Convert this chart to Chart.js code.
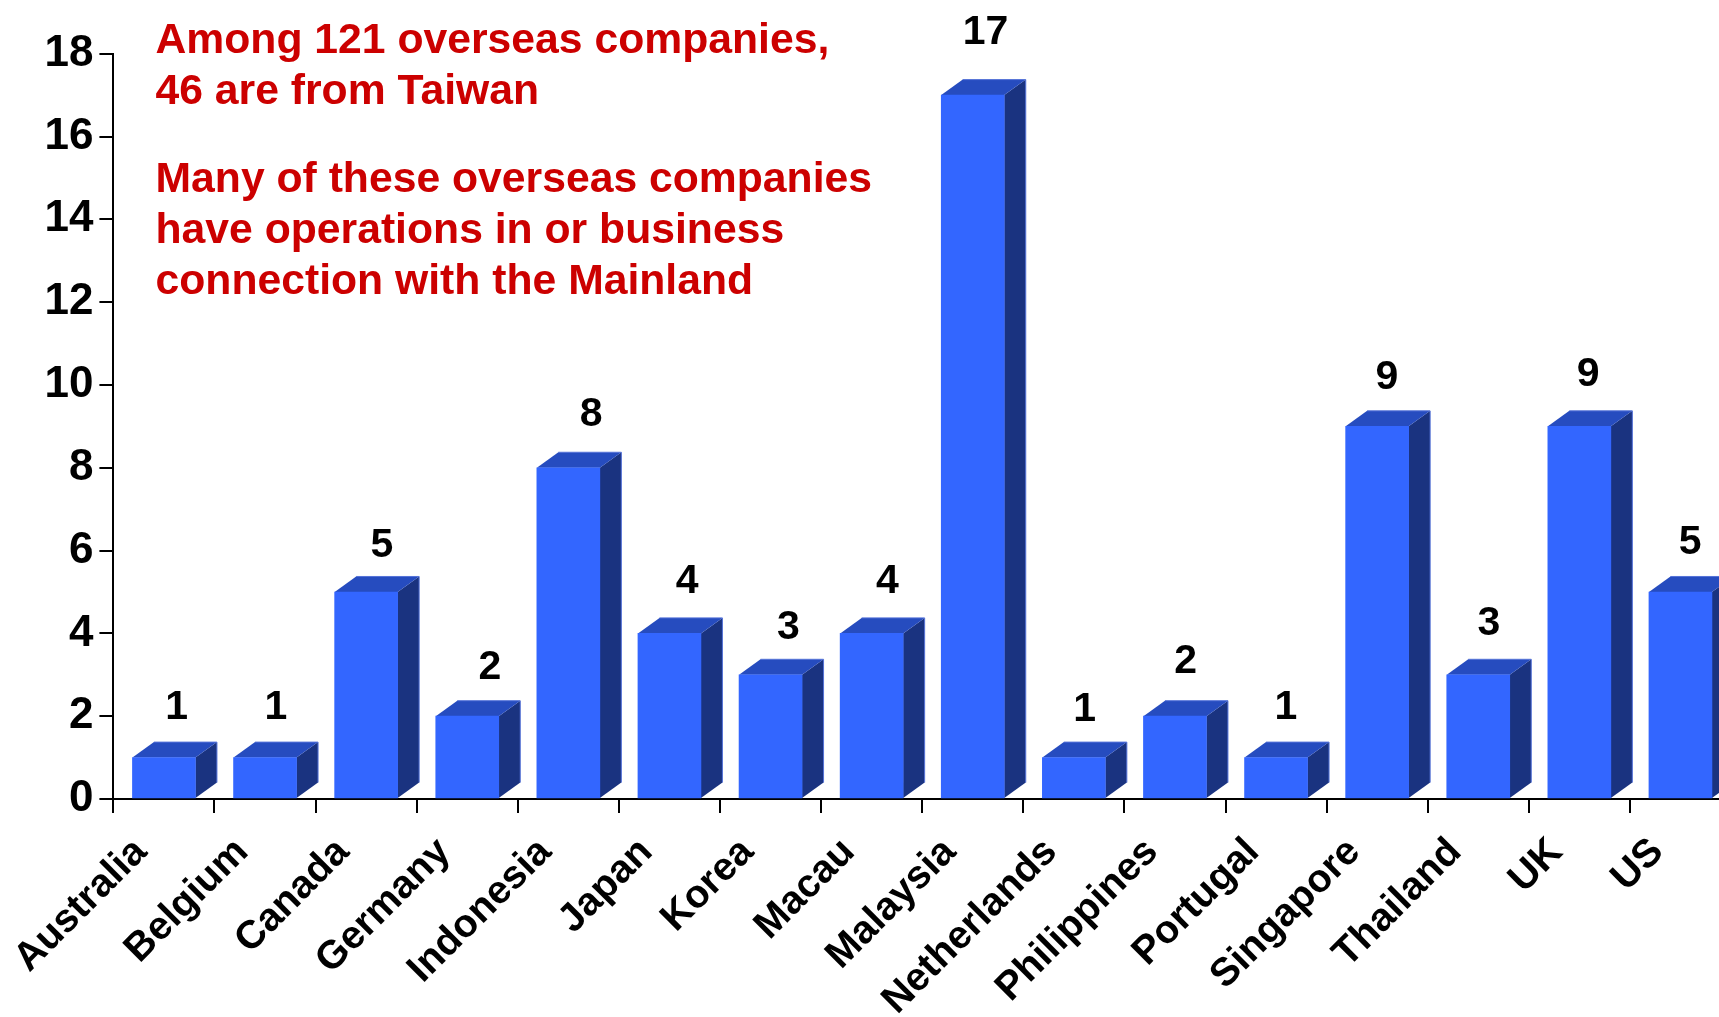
<!DOCTYPE html>
<html>
<head>
<meta charset="utf-8">
<style>
  html, body { margin: 0; padding: 0; background: #fff; overflow: hidden; }
  #frame { width: 1719px; height: 1017px; overflow: hidden; }
  canvas { display: block; }
</style>
<script src="https://cdn.jsdelivr.net/npm/chart.js@4"></script>
</head>
<body>
<div id="frame"><canvas id="chart" width="1731" height="1017"></canvas></div>
<script>
const countries = ["Australia", "Belgium", "Canada", "Germany", "Indonesia", "Japan", "Korea", "Macau",
  "Malaysia", "Netherlands", "Philippines", "Portugal", "Singapore", "Thailand", "UK", "US"];
const companyCounts = [1, 1, 5, 2, 8, 4, 3, 4, 17, 1, 2, 1, 9, 3, 9, 5];
const noteLines = ["Among 121 overseas companies,", "46 are from Taiwan", "",
  "Many of these overseas companies", "have operations in or business", "connection with the Mainland"];

const FONT = '"Liberation Sans", Arial, sans-serif';
const FRONT = "#3366FF", TOP = "#264CBF", SIDE = "#1A3380", EDGE = "#5573D8";
const DEPTH_X = 21.5, DEPTH_Y = 15.5;

// Hand placement of the value labels, relative to their bars.
const valueLabelShiftX = [2, 0, 5, 12, 12, 7, 7, 5, 2, 0, 0, -1, -1, 0, -2, -1];
const valueLabelShiftY = [-2, -2, 2, 0, -5, -3, 1, -3, -14, 0, -6, -2, 0, -3, -3, -1];

function fillPoly(ctx, pts, fill) {
  ctx.beginPath();
  pts.forEach((p, i) => (i ? ctx.lineTo(p[0], p[1]) : ctx.moveTo(p[0], p[1])));
  ctx.closePath();
  ctx.fillStyle = fill;
  ctx.fill();
}

// Extrudes every bar back and to the right, then writes its value above it.
const extrudedBars = {
  id: "extrudedBars",
  beforeDatasetsDraw(chart) {
    const ctx = chart.ctx;
    chart.getDatasetMeta(0).data.forEach(bar => {
      const l = bar.x - bar.width / 2, r = bar.x + bar.width / 2, t = bar.y, b = bar.base;
      fillPoly(ctx, [[r, t], [r + DEPTH_X, t - DEPTH_Y], [r + DEPTH_X, b - DEPTH_Y], [r, b]], SIDE);
      fillPoly(ctx, [[l, t], [l + DEPTH_X, t - DEPTH_Y], [r + DEPTH_X, t - DEPTH_Y], [r, t]], TOP);
      ctx.beginPath();
      ctx.moveTo(l + DEPTH_X, t - DEPTH_Y);
      ctx.lineTo(r + DEPTH_X, t - DEPTH_Y);
      ctx.lineTo(r + DEPTH_X, b - DEPTH_Y);
      ctx.strokeStyle = EDGE;
      ctx.lineWidth = 1;
      ctx.stroke();
    });
  },
  afterDatasetsDraw(chart) {
    const ctx = chart.ctx;
    ctx.save();
    ctx.font = "bold 41px " + FONT;
    ctx.fillStyle = "#000";
    ctx.textAlign = "center";
    ctx.textBaseline = "alphabetic";
    chart.getDatasetMeta(0).data.forEach((bar, i) => {
      ctx.fillText(String(companyCounts[i]),
        bar.x + DEPTH_X / 2 + valueLabelShiftX[i],
        bar.y - 37 + valueLabelShiftY[i]);
    });
    ctx.restore();
  }
};

// Red note in the empty space over the low bars.
const noteText = {
  id: "noteText",
  afterDraw(chart) {
    const ctx = chart.ctx;
    ctx.save();
    ctx.font = "bold 42.7px " + FONT;
    ctx.fillStyle = "#CC0000";
    ctx.textAlign = "left";
    ctx.textBaseline = "alphabetic";
    noteLines.forEach((line, i) => {
      const y = i < 2 ? 53 + i * 51 : 192 + (i - 3) * 51;
      ctx.fillText(line, 155.5, y);
    });
    ctx.restore();
  }
};

new Chart(document.getElementById("chart"), {
  type: "bar",
  data: {
    labels: countries,
    datasets: [{ data: companyCounts, backgroundColor: FRONT, borderWidth: 0, barThickness: 63 }]
  },
  plugins: [extrudedBars, noteText],
  options: {
    responsive: false,
    animation: false,
    layout: { padding: { top: 53.7, left: 0, right: 0, bottom: 0 } },
    plugins: { legend: { display: false }, tooltip: { enabled: false }, title: { display: false } },
    scales: {
      x: {
        afterFit(scale) { scale.height = 218; scale.paddingLeft = 0; scale.paddingRight = 0; },
        border: { color: "#000", width: 2 },
        grid: { drawOnChartArea: false, drawTicks: true, tickLength: 14, color: "#000", lineWidth: 2 },
        ticks: {
          autoSkip: false, minRotation: 45, maxRotation: 45, padding: 16, labelOffset: -23,
          color: "#000", font: { family: FONT, size: 39.5, weight: "bold" }
        }
      },
      y: {
        min: 0, max: 18,
        afterFit(scale) { scale.width = 113.4; },
        border: { color: "#000", width: 2 },
        grid: { drawOnChartArea: false, drawTicks: true, tickLength: 14, color: "#000", lineWidth: 2 },
        ticks: {
          stepSize: 2, padding: 6, color: "#000",
          font: { family: FONT, size: 44, weight: "bold" }
        }
      }
    }
  }
});
</script>
</body>
</html>
